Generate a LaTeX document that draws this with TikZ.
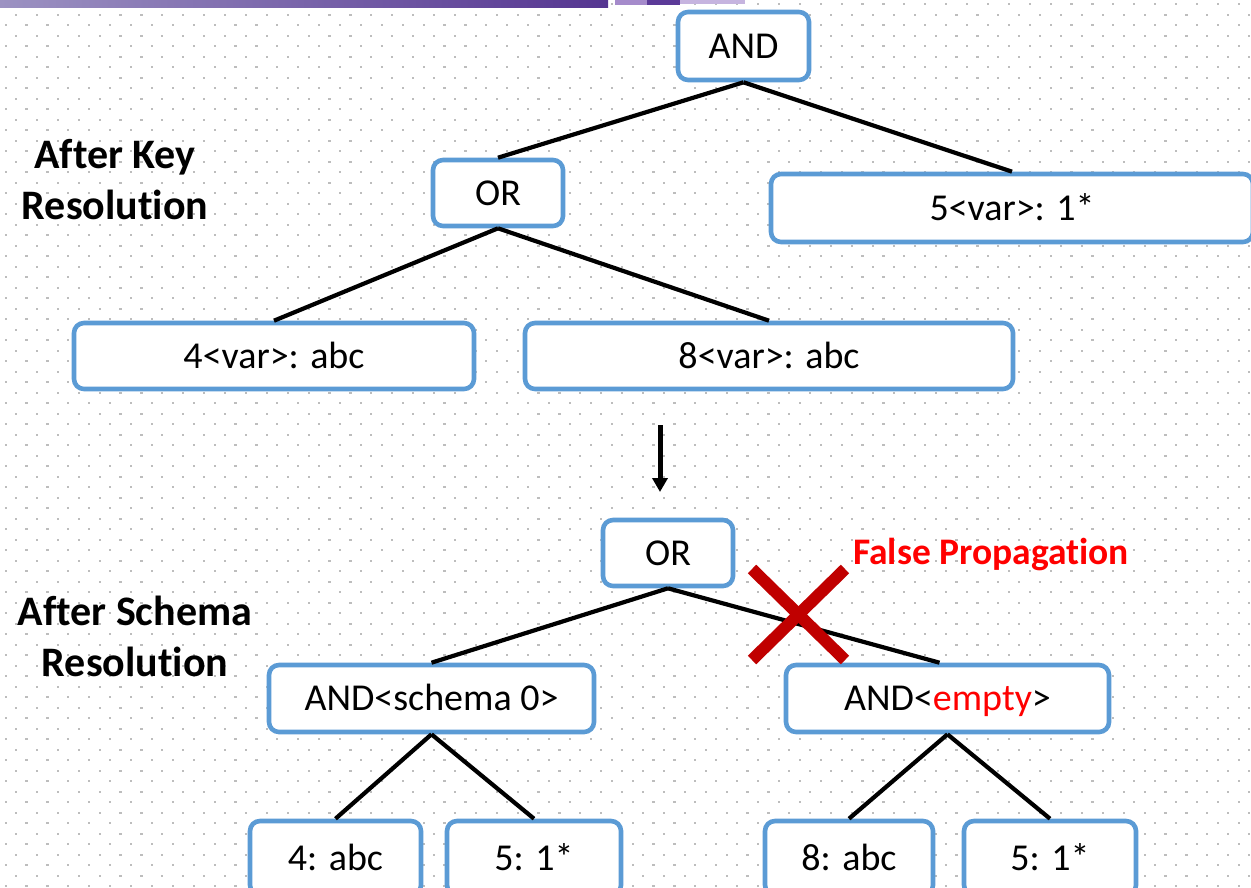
\documentclass[tikz,border=0pt]{standalone}
\usepackage{fontspec}
\setmainfont{Carlito}[Ligatures=NoCommon]
\usetikzlibrary{arrows.meta}
\definecolor{boxblue}{HTML}{5B9BD5}
\definecolor{crossred}{HTML}{C00000}
\definecolor{barlight}{HTML}{9C92C2}
\definecolor{bardark}{HTML}{553591}
\definecolor{tabA}{HTML}{A58BCB}
\definecolor{tabB}{HTML}{5B3A98}
\definecolor{tabC}{HTML}{C6B4DF}
\begin{document}
\begin{tikzpicture}[x=1pt,y=-1pt,
  treebox/.style={draw=boxblue, line width=4.6pt, rounded corners=10pt, fill=white,
    inner sep=0pt, font=\fontsize{38}{44}\selectfont, text height=24.5pt, text depth=0pt},
  edge/.style={line width=4.2pt, black},
  heading/.style={font=\fontsize{42}{51}\selectfont\bfseries, align=center, inner sep=0pt}]
\useasboundingbox (0,0) rectangle (1251,888);
\clip (0,0) rectangle (1251,888);
\fill[white] (0,0) rectangle (1251,888);
% dotted grid background
\foreach \r in {0,...,84}{
  \pgfmathsetmacro{\yy}{4.3+\r*10.5}
  \pgfmathsetmacro{\xo}{mod(\r,2)*10.45+5.6}
  \foreach \c in {0,...,60}{
    \fill[black!26] (\xo+\c*20.9-1.1,\yy-1.1) rectangle ++(2.2,2.2);
  }
}
% title bar
\shade[left color=barlight, right color=bardark] (0,0) rectangle (608,8);
\fill[tabA] (615,0) rectangle (647,5);
\fill[tabB] (647,0) rectangle (680,5);
\fill[tabC] (680,0) rectangle (745,4);

% upper tree
\node[treebox, minimum width=131pt, minimum height=68pt] (and1) at (743.5,46) {AND};
\node[treebox, minimum width=130pt, minimum height=66pt] (or1) at (498,193) {OR};
\node[treebox, minimum width=482pt, minimum height=68pt] (v5) at (1012,208) {5<var>: 1*};
\node[treebox, minimum width=400pt, minimum height=66pt] (v4) at (274,356) {4<var>: abc};
\node[treebox, minimum width=488pt, minimum height=66pt] (v8) at (769,356) {8<var>: abc};

\draw[edge] (and1.south) -- (or1.north);
\draw[edge] (and1.south) -- (v5.north);
\draw[edge] (or1.south) -- (v4.north);
\draw[edge] (or1.south) -- (v8.north);

% step arrow
\coordinate (arrtop) at (660,425);
\coordinate (arrbot) at (660,492);
\draw[line width=5pt, -{Triangle[length=14pt,width=15pt]}] (arrtop) -- (arrbot);

% lower tree
\node[treebox, minimum width=130pt, minimum height=66pt] (or2) at (668,553) {OR};
\node[treebox, minimum width=325pt, minimum height=67pt] (s0) at (431.5,698.5) {AND<schema 0>};
\node[treebox, minimum width=323pt, minimum height=67pt] (se) at (947.5,698.5) {AND<\textcolor{red}{empty}>};
\node[treebox, minimum width=171pt, minimum height=74pt] (l4) at (335.5,858) {4: abc};
\node[treebox, minimum width=174pt, minimum height=74pt] (l5) at (534,858) {5: 1*};
\node[treebox, minimum width=168pt, minimum height=74pt] (r8) at (849,858) {8: abc};
\node[treebox, minimum width=172pt, minimum height=74pt] (r5) at (1050,858) {5: 1*};

\draw[edge] (or2.south) -- (s0.north);
\draw[edge] (or2.south) -- ([xshift=-8pt]se.north);
\draw[edge] (s0.south) -- (l4.north);
\draw[edge] (s0.south) -- (l5.north);
\draw[edge] (se.south) -- (r8.north);
\draw[edge] (se.south) -- (r5.north);

% rejected branch
\coordinate (xa) at (752,569);
\coordinate (xb) at (845,660);
\coordinate (xc) at (845,569);
\coordinate (xd) at (752,660);
\draw[crossred, line width=12pt] (xa) -- (xb);
\draw[crossred, line width=12pt] (xc) -- (xd);
\node[anchor=west, text=red, font=\fontsize{37.5}{44}\selectfont\bfseries, inner sep=0pt] (fp) at (853,555) {False Propagation};

% stage labels
\node[heading] (keyres) at (115,180) {After Key\\Resolution};
\node[heading] (schres) at (135,636) {After Schema\\Resolution};
\end{tikzpicture}
\end{document}
